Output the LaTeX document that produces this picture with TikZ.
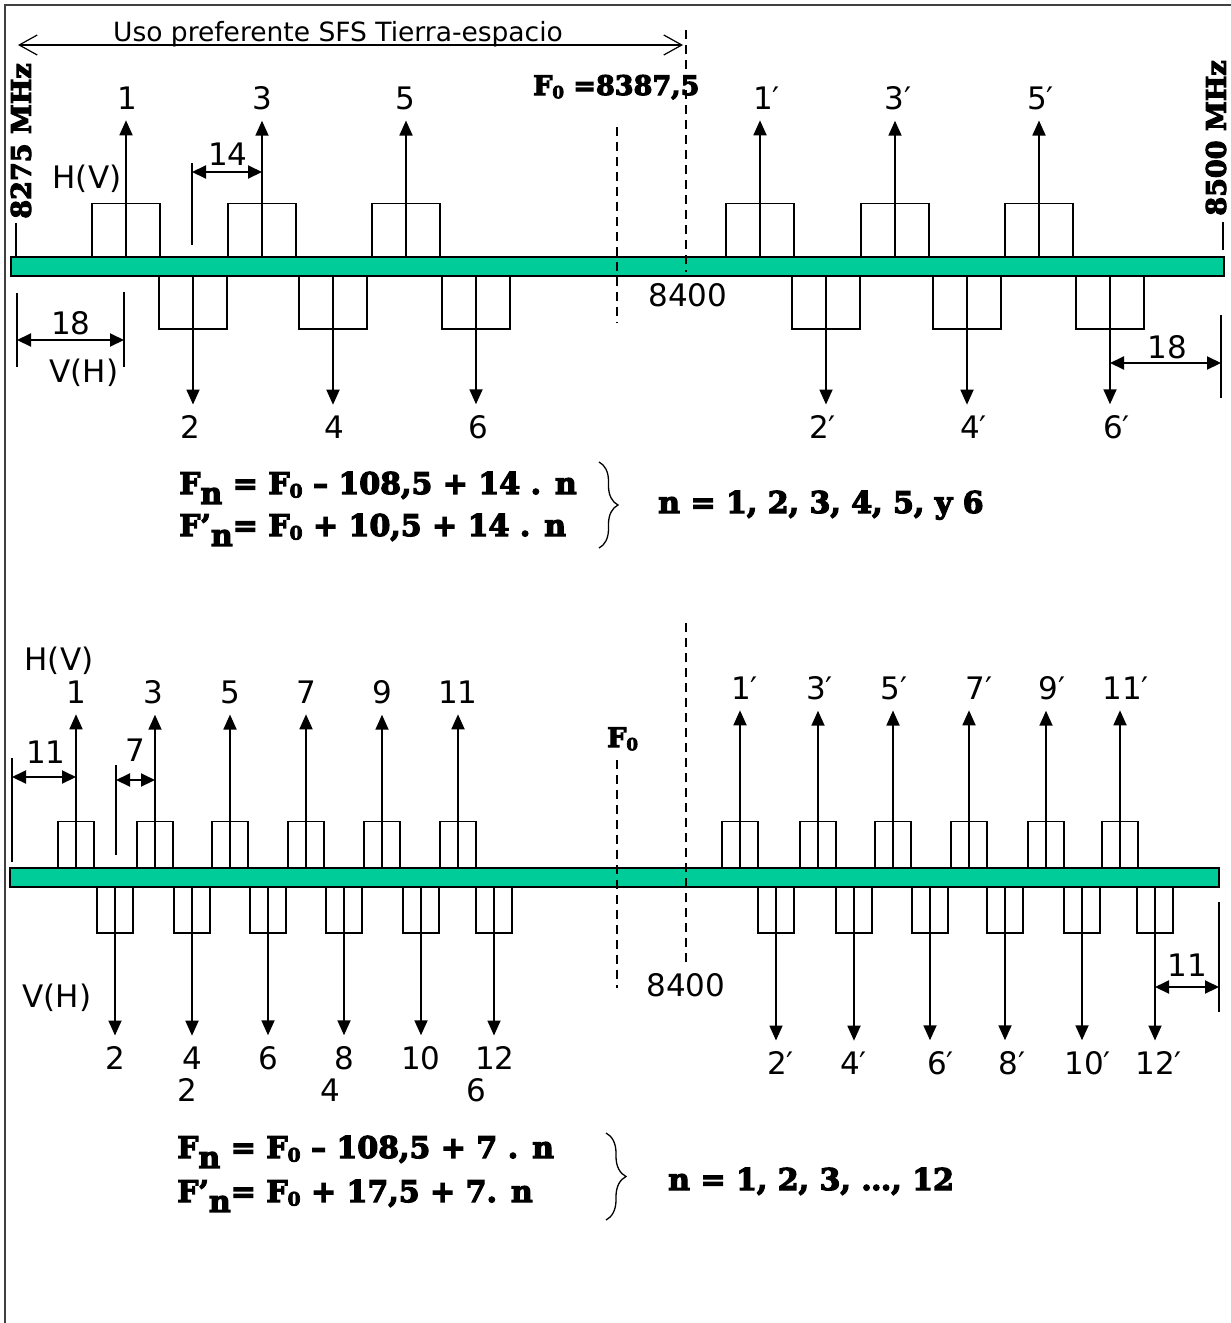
\documentclass[tikz,border=0pt]{standalone}
\usepackage{fontspec}
\usepackage{graphicx}
\usepackage{tikz}
\usetikzlibrary{arrows.meta}
\usetikzlibrary{decorations.pathreplacing}
\setmainfont{DejaVu Sans}
\newfontfamily\heavyfont{DejaVu Serif}[FakeBold=4]
\definecolor{bandgreen}{RGB}{0,204,153}
\newcommand{\primed}[1]{#1\rlap{′}}
\newcommand{\lowidx}[1]{\raisebox{-0.33em}{#1}}
\newcommand{\zeroidx}{\raisebox{-0.12em}{\scalebox{0.62}{0}}}
\tikzset{
  band/.style={draw, line width=2.5pt, fill=bandgreen, inner sep=0pt},
  widech/.style={draw, line width=1.7pt, minimum width=68pt, minimum height=53pt, inner sep=0pt},
  narrowch/.style={draw, line width=1.7pt, minimum width=36pt, minimum height=46pt, inner sep=0pt},
  num/.style={font=\fontsize{31}{36}\selectfont, inner sep=0pt, outer ysep=11pt},
  heavy/.style={font=\heavyfont\bfseries\fontsize{27}{32}\selectfont, inner sep=0pt},
  formula/.style={font=\heavyfont\bfseries\fontsize{30}{40}\selectfont, inner sep=0pt, anchor=base west},
  chanarrow/.style={line width=1.8pt, -{Triangle[length=15pt,width=13pt]}},
  dimarrow/.style={line width=2pt, {Triangle[length=14pt,width=13pt]}-{Triangle[length=14pt,width=13pt]}},
  guide/.style={line width=1.3pt},
  fline/.style={line width=1.5pt, dash pattern=on 9pt off 6pt}
}
\begin{document}
\begin{tikzpicture}[x=1pt, y=-1pt]
\useasboundingbox (0,0) rectangle (1231,1323);
\draw[line width=2pt, black!75] (5,1323) -- (5,5) -- (1231,5);

\node[font=\fontsize{26.5}{30}\selectfont, inner sep=0pt, anchor=base] (title) at (338,41) {Uso preferente SFS Tierra-espacio};
\coordinate (u1) at (18,45);
\coordinate (u2) at (683,45);
\draw[line width=1.2pt, {Straight Barb[length=18pt,width=20pt]}-{Straight Barb[length=18pt,width=20pt]}] (u1) -- (u2);

\node[band, minimum width=1213pt, minimum height=19pt] (G1) at (617.5,266.5) {};
\draw[fline] (686,30) -- (686,272);
\draw[fline] (617,127) -- (617,323);

\node[heavy, rotate=90] (lo1) at (21,141) {8275 MHz};
\node[heavy, rotate=90] (hi1) at (1216,138) {8500 MHz};
\draw[guide] (16,223) -- (16,257);
\draw[guide] (1223,222) -- (1223,250);
\node[heavy, anchor=base west] (f0a) at (533,95) {F\zeroidx{} =8387,5};
\node[num] (c8400a) at (688,295) {8400};
\node[num, anchor=base] (hv1) at (87,188) {H(V)};
\node[num, anchor=base] (vh1) at (84,382) {V(H)};

\node[widech] (A1) at (126,230) {};
\node[widech] (A3) at (262,230) {};
\node[widech] (A5) at (406,230) {};
\node[widech] (A1p) at (760,230) {};
\node[widech] (A3p) at (895,230) {};
\node[widech] (A5p) at (1039,230) {};
\node[widech] (A2) at (193,302.5) {};
\node[widech] (A4) at (333,302.5) {};
\node[widech] (A6) at (476,302.5) {};
\node[widech] (A2p) at (826,302.5) {};
\node[widech] (A4p) at (967,302.5) {};
\node[widech] (A6p) at (1110,302.5) {};

\node[num] (a1) at (127,98) {1};
\node[num] (a3) at (262,98) {3};
\node[num] (a5) at (405,98) {5};
\node[num] (a1p) at (763,98) {\primed{1}};
\node[num] (a3p) at (894.5,98) {\primed{3}};
\node[num] (a5p) at (1037,98) {\primed{5}};
\node[num] (a2) at (190,427) {2};
\node[num] (a4) at (334,427) {4};
\node[num] (a6) at (478,427) {6};
\node[num] (a2p) at (819,427) {\primed{2}};
\node[num] (a4p) at (970,427) {\primed{4}};
\node[num] (a6p) at (1113,427) {\primed{6}};

\draw[chanarrow] (A1.south) -- (A1.south |- a1.south);
\draw[chanarrow] (A3.south) -- (A3.south |- a3.south);
\draw[chanarrow] (A5.south) -- (A5.south |- a5.south);
\draw[chanarrow] (A1p.south) -- (A1p.south |- a1p.south);
\draw[chanarrow] (A3p.south) -- (A3p.south |- a3p.south);
\draw[chanarrow] (A5p.south) -- (A5p.south |- a5p.south);
\draw[chanarrow] (A2.north) -- (A2.north |- a2.north);
\draw[chanarrow] (A4.north) -- (A4.north |- a4.north);
\draw[chanarrow] (A6.north) -- (A6.north |- a6.north);
\draw[chanarrow] (A2p.north) -- (A2p.north |- a2p.north);
\draw[chanarrow] (A4p.north) -- (A4p.north |- a4p.north);
\draw[chanarrow] (A6p.north) -- (A6p.north |- a6p.north);

\draw[guide] (192,163) -- (192,245);
\coordinate (d14) at (192,172);
\draw[dimarrow] (d14) -- (d14 -| A3);
\node[num] (w14) at (228,154) {14};
\draw[guide] (17,293) -- (17,367);
\draw[guide] (124,292) -- (124,367);
\coordinate (d18a) at (17,340);
\coordinate (d18b) at (124,340);
\draw[dimarrow] (d18a) -- (d18b);
\node[num] (w18a) at (71,323) {18};
\draw[guide] (1221,315) -- (1221,398);
\coordinate (d18c) at (1221,363);
\draw[dimarrow] (d18c -| A6p) -- (d18c);
\node[num] (w18b) at (1167,347) {18};

\node[formula] (e1) at (179,494) {F\lowidx{n} = F\zeroidx{} – 108,5 + 14 . n};
\node[formula] (e2) at (179,536) {F’\lowidx{n}= F\zeroidx{} + 10,5 + 14 . n};
\draw[line width=1.3pt, decorate, decoration={brace, amplitude=19pt}] (599,462) -- (599,548);
\node[formula] (r1) at (658,513) {n = 1, 2, 3, 4, 5, y 6};

\node[band, minimum width=1209pt, minimum height=19pt] (G2) at (614.5,877.5) {};
\draw[fline] (617,760) -- (617,988);
\draw[fline] (686,623) -- (686,965);
\node[heavy, anchor=base west] (f0b) at (607,747) {F\zeroidx};
\node[num] (c8400b) at (686,985) {8400};
\node[num, anchor=base] (hv2) at (59,670) {H(V)};
\node[num, anchor=base] (vh2) at (57,1007) {V(H)};

\node[narrowch] (B1) at (76,844.5) {};
\node[narrowch] (B3) at (155,844.5) {};
\node[narrowch] (B5) at (230,844.5) {};
\node[narrowch] (B7) at (306,844.5) {};
\node[narrowch] (B9) at (382,844.5) {};
\node[narrowch] (B11) at (458,844.5) {};
\node[narrowch] (B1p) at (740,844.5) {};
\node[narrowch] (B3p) at (818,844.5) {};
\node[narrowch] (B5p) at (893,844.5) {};
\node[narrowch] (B7p) at (969,844.5) {};
\node[narrowch] (B9p) at (1046,844.5) {};
\node[narrowch] (B11p) at (1120,844.5) {};
\node[narrowch] (B2) at (115,910) {};
\node[narrowch] (B4) at (192,910) {};
\node[narrowch] (B6) at (268,910) {};
\node[narrowch] (B8) at (344,910) {};
\node[narrowch] (B10) at (421,910) {};
\node[narrowch] (B12) at (494,910) {};
\node[narrowch] (B2p) at (776,910) {};
\node[narrowch] (B4p) at (854,910) {};
\node[narrowch] (B6p) at (930,910) {};
\node[narrowch] (B8p) at (1005,910) {};
\node[narrowch] (B10p) at (1082,910) {};
\node[narrowch] (B12p) at (1155,910) {};

\node[num] (b1) at (76,692) {1};
\node[num] (b3) at (153,692) {3};
\node[num] (b5) at (230,692) {5};
\node[num] (b7) at (306,692) {7};
\node[num] (b9) at (382,692) {9};
\node[num] (b11) at (458,692) {11};
\node[num] (b1p) at (741,688) {\primed{1}};
\node[num] (b3p) at (816,688) {\primed{3}};
\node[num] (b5p) at (890.5,688) {\primed{5}};
\node[num] (b7p) at (975.5,688) {\primed{7}};
\node[num] (b9p) at (1048.5,688) {\primed{9}};
\node[num] (b11p) at (1122,688) {\primed{11}};
\node[num] (b2) at (115,1058) {2};
\node[num] (b4) at (192,1058) {4};
\node[num] (b6) at (268,1058) {6};
\node[num] (b8) at (344,1058) {8};
\node[num] (b10) at (421,1058) {10};
\node[num] (b12) at (495,1058) {12};
\node[num] (b2p) at (777,1063) {\primed{2}};
\node[num] (b4p) at (850,1063) {\primed{4}};
\node[num] (b6p) at (937,1063) {\primed{6}};
\node[num] (b8p) at (1008.5,1063) {\primed{8}};
\node[num] (b10p) at (1084,1063) {\primed{10}};
\node[num] (b12p) at (1155,1063) {\primed{12}};
\node[num] (k2) at (187,1090) {2};
\node[num] (k4) at (330,1090) {4};
\node[num] (k6) at (476,1090) {6};

\draw[chanarrow] (B1.south) -- (B1.south |- b1.south);
\draw[chanarrow] (B3.south) -- (B3.south |- b3.south);
\draw[chanarrow] (B5.south) -- (B5.south |- b5.south);
\draw[chanarrow] (B7.south) -- (B7.south |- b7.south);
\draw[chanarrow] (B9.south) -- (B9.south |- b9.south);
\draw[chanarrow] (B11.south) -- (B11.south |- b11.south);
\draw[chanarrow] (B1p.south) -- (B1p.south |- b1p.south);
\draw[chanarrow] (B3p.south) -- (B3p.south |- b3p.south);
\draw[chanarrow] (B5p.south) -- (B5p.south |- b5p.south);
\draw[chanarrow] (B7p.south) -- (B7p.south |- b7p.south);
\draw[chanarrow] (B9p.south) -- (B9p.south |- b9p.south);
\draw[chanarrow] (B11p.south) -- (B11p.south |- b11p.south);
\draw[chanarrow] (B2.north) -- (B2.north |- b2.north);
\draw[chanarrow] (B4.north) -- (B4.north |- b4.north);
\draw[chanarrow] (B6.north) -- (B6.north |- b6.north);
\draw[chanarrow] (B8.north) -- (B8.north |- b8.north);
\draw[chanarrow] (B10.north) -- (B10.north |- b10.north);
\draw[chanarrow] (B12.north) -- (B12.north |- b12.north);
\draw[chanarrow] (B2p.north) -- (B2p.north |- b2p.north);
\draw[chanarrow] (B4p.north) -- (B4p.north |- b4p.north);
\draw[chanarrow] (B6p.north) -- (B6p.north |- b6p.north);
\draw[chanarrow] (B8p.north) -- (B8p.north |- b8p.north);
\draw[chanarrow] (B10p.north) -- (B10p.north |- b10p.north);
\draw[chanarrow] (B12p.north) -- (B12p.north |- b12p.north);

\draw[guide] (12,758) -- (12,862);
\coordinate (d11a) at (12,777);
\draw[dimarrow] (d11a) -- (d11a -| B1);
\node[num] (w11a) at (46,752) {11};
\draw[guide] (116,765) -- (116,855);
\coordinate (d7) at (116,780);
\draw[dimarrow] (d7) -- (d7 -| B3);
\node[num] (w7) at (135,750) {7};
\draw[guide] (1219,902) -- (1219,1012);
\coordinate (d11b) at (1219,987);
\draw[dimarrow] (d11b -| B12p) -- (d11b);
\node[num] (w11b) at (1187,965) {11};

\node[formula] (e3) at (177,1158) {F\lowidx{n} = F\zeroidx{} – 108,5 + 7 . n};
\node[formula] (e4) at (177,1202) {F’\lowidx{n}= F\zeroidx{} + 17,5 + 7. n};
\draw[line width=1.3pt, decorate, decoration={brace, amplitude=20pt}] (606,1133) -- (606,1220);
\node[formula] (r2) at (668,1190) {n = 1, 2, 3, …, 12};
\end{tikzpicture}
\end{document}
